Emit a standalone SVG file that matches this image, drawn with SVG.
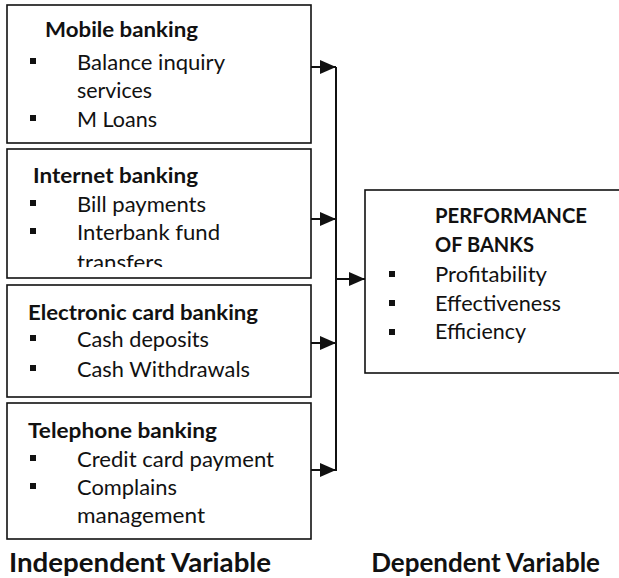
<svg xmlns="http://www.w3.org/2000/svg" width="619" height="578" viewBox="0 0 619 578">
  <style>
    .box { fill: #ffffff; stroke: #111; stroke-width: 1.6; }
    .h { font-family: Lato, "Liberation Sans", sans-serif; font-weight: bold; font-size: 21px; fill: #111; }
    .t { font-family: Lato, "Liberation Sans", sans-serif; font-size: 21px; fill: #111; }
    .big { font-family: Lato, "Liberation Sans", sans-serif; font-weight: bold; font-size: 26px; fill: #111; }
    .b { fill: #111; }
    .wire { fill: none; stroke: #111; stroke-width: 2; }
  </style>
  <defs>
    <marker id="arrow" markerUnits="userSpaceOnUse" markerWidth="16" markerHeight="14" refX="16" refY="7" orient="auto">
      <path d="M0,0 L16,7 L0,14 z" fill="#111"/>
    </marker>
    <!-- the third line of the internet banking list overflows its box and is cut -->
    <clipPath id="clip-internet">
      <rect x="7" y="149" width="304" height="118"/>
    </clipPath>
  </defs>
  <rect width="619" height="578" fill="#ffffff"/>

  <g id="mobile-banking">
    <rect class="box" x="7" y="5" width="304" height="138"/>
    <text class="h" x="45" y="37" textLength="153" lengthAdjust="spacingAndGlyphs">Mobile banking</text>
    <rect class="b" x="30" y="58" width="6" height="6"/>
    <text class="t" x="77" y="70" textLength="148" lengthAdjust="spacingAndGlyphs">Balance inquiry</text>
    <text class="t" x="77" y="98" textLength="75" lengthAdjust="spacingAndGlyphs">services</text>
    <rect class="b" x="30" y="115" width="6" height="6"/>
    <text class="t" x="77" y="127" textLength="80" lengthAdjust="spacingAndGlyphs">M Loans</text>
  </g>

  <g id="internet-banking">
    <rect class="box" x="7" y="149" width="304" height="129"/>
    <text class="h" x="33" y="183" textLength="165" lengthAdjust="spacingAndGlyphs">Internet banking</text>
    <rect class="b" x="30" y="200" width="6" height="6"/>
    <text class="t" x="77" y="212" textLength="129" lengthAdjust="spacingAndGlyphs">Bill payments</text>
    <rect class="b" x="30" y="228" width="6" height="6"/>
    <text class="t" x="77" y="240" textLength="143" lengthAdjust="spacingAndGlyphs">Interbank fund</text>
    <text class="t" x="77" y="270" textLength="86" lengthAdjust="spacingAndGlyphs" clip-path="url(#clip-internet)">transfers</text>
  </g>

  <g id="electronic-card-banking">
    <rect class="box" x="7" y="285" width="304" height="112"/>
    <text class="h" x="28" y="320" textLength="230" lengthAdjust="spacingAndGlyphs">Electronic card banking</text>
    <rect class="b" x="30" y="335" width="6" height="6"/>
    <text class="t" x="77" y="347" textLength="132" lengthAdjust="spacingAndGlyphs">Cash deposits</text>
    <rect class="b" x="30" y="365" width="6" height="6"/>
    <text class="t" x="77" y="377" textLength="173" lengthAdjust="spacingAndGlyphs">Cash Withdrawals</text>
  </g>

  <g id="telephone-banking">
    <rect class="box" x="7" y="403" width="304" height="136"/>
    <text class="h" x="28" y="438" textLength="189" lengthAdjust="spacingAndGlyphs">Telephone banking</text>
    <rect class="b" x="30" y="455" width="6" height="6"/>
    <text class="t" x="77" y="467" textLength="197" lengthAdjust="spacingAndGlyphs">Credit card payment</text>
    <rect class="b" x="30" y="483" width="6" height="6"/>
    <text class="t" x="77" y="495" textLength="100" lengthAdjust="spacingAndGlyphs">Complains</text>
    <text class="t" x="77" y="523" textLength="128" lengthAdjust="spacingAndGlyphs">management</text>
  </g>

  <g id="performance-of-banks">
    <rect class="box" x="365" y="190" width="270" height="183"/>
    <text class="h" x="435" y="223" textLength="152" lengthAdjust="spacingAndGlyphs">PERFORMANCE</text>
    <text class="h" x="435" y="252" textLength="99" lengthAdjust="spacingAndGlyphs">OF BANKS</text>
    <rect class="b" x="389" y="271" width="6" height="6"/>
    <text class="t" x="435" y="282" textLength="112" lengthAdjust="spacingAndGlyphs">Profitability</text>
    <rect class="b" x="389" y="300" width="6" height="6"/>
    <text class="t" x="435" y="311" textLength="126" lengthAdjust="spacingAndGlyphs">Effectiveness</text>
    <rect class="b" x="389" y="329" width="6" height="6"/>
    <text class="t" x="435" y="339" textLength="91" lengthAdjust="spacingAndGlyphs">Efficiency</text>
  </g>

  <g id="connectors">
    <line class="wire" x1="311" y1="67" x2="336" y2="67" marker-end="url(#arrow)"/>
    <line class="wire" x1="311" y1="219" x2="336" y2="219" marker-end="url(#arrow)"/>
    <line class="wire" x1="311" y1="343" x2="336" y2="343" marker-end="url(#arrow)"/>
    <line class="wire" x1="311" y1="470" x2="336" y2="470" marker-end="url(#arrow)"/>
    <line class="wire" x1="336" y1="67" x2="336" y2="471"/>
    <line class="wire" x1="336" y1="279" x2="365" y2="279" marker-end="url(#arrow)"/>
  </g>

  <g id="captions">
    <text class="big" x="9" y="572" textLength="262" lengthAdjust="spacingAndGlyphs">Independent Variable</text>
    <text class="big" x="600" y="572" text-anchor="end">Dependent Variable</text>
  </g>
</svg>
